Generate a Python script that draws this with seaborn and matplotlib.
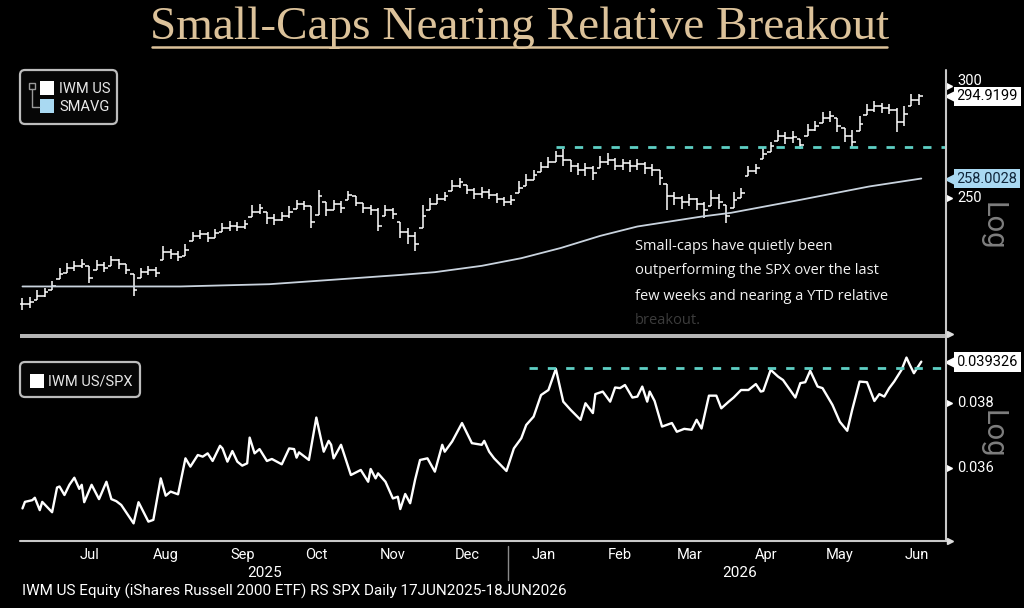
import numpy as np
import pandas as pd
import matplotlib
matplotlib.use("Agg")
import matplotlib.pyplot as plt
import matplotlib.dates as mdates
import matplotlib.transforms as mtransforms
from matplotlib.patches import FancyBboxPatch, Rectangle
from matplotlib.lines import Line2D
from matplotlib.ticker import NullLocator, FixedLocator
import seaborn as sns

# ---------------- data ----------------
title = "Small-Caps Nearing Relative Breakout"
footer = "IWM US Equity (iShares Russell 2000 ETF) RS SPX Daily 17JUN2025-18JUN2026"
note_lines = ["Small-caps have quietly been",
              "outperforming the SPX over the last",
              "few weeks and nearing a YTD relative"]
note_hidden = "breakout."

bar_start = "2025-06-19"
bar_close = [210.4, 211.1, 213.1, 214.5, 216.6, 220.9, 223.1, 223.8, 224.5, 219.5,
             224.2, 223.1, 226.0, 224.5, 222.3, 215.2, 221.6, 222.3, 221.3, 229.0,
             228.2, 227.1, 229.7, 235.0, 235.8, 234.2, 236.1, 238.1, 238.9, 238.5,
             239.6, 244.4, 246.0, 242.0, 241.2, 242.8, 244.4, 247.6, 246.8, 240.4,
             250.8, 245.2, 247.6, 246.0, 251.2, 248.0, 246.0, 245.2, 238.9, 245.2,
             243.6, 236.5, 235.0, 232.0, 242.8, 247.6, 249.6, 250.8, 254.9, 256.6,
             253.3, 251.6, 252.5, 251.2, 249.6, 248.4, 249.2, 254.1, 257.4, 259.5,
             262.9, 265.1, 267.7, 266.0, 263.4, 261.7, 262.5, 260.4, 265.1, 266.0,
             263.4, 264.7, 263.4, 264.2, 262.5, 261.7, 258.3, 250.8, 250.0, 248.4,
             249.6, 247.6, 245.2, 250.0, 248.4, 242.8, 249.2, 252.0, 261.2, 262.5,
             268.6, 272.1, 276.6, 275.7, 276.1, 272.5, 279.3, 281.1, 284.8, 285.7,
             281.1, 276.6, 273.9, 282.0, 288.5, 290.4, 289.5, 288.5, 282.9, 286.6,
             293.3, 294.9199]
bar_high = [212.4, 212.8, 215.2, 215.9, 218.4, 223.1, 224.9, 225.6, 226.4, 223.8,
            226.0, 225.3, 227.5, 226.4, 224.5, 220.9, 223.1, 223.8, 223.4, 231.2,
            230.1, 229.3, 232.0, 236.5, 237.3, 236.5, 237.7, 240.0, 240.8, 240.4,
            241.2, 247.2, 247.6, 244.4, 243.6, 244.4, 246.8, 249.2, 248.8, 246.8,
            253.3, 248.4, 249.2, 248.8, 252.9, 250.8, 248.0, 247.2, 246.0, 247.2,
            246.0, 240.4, 238.1, 236.5, 247.2, 250.0, 251.6, 252.5, 257.4, 258.3,
            255.4, 254.1, 254.5, 253.7, 252.0, 250.4, 251.2, 257.0, 260.0, 261.7,
            265.1, 267.3, 269.9, 270.8, 266.0, 264.7, 264.7, 263.4, 267.7, 269.0,
            266.8, 266.4, 266.0, 266.4, 265.1, 264.2, 261.7, 255.8, 252.5, 250.8,
            251.6, 250.0, 248.4, 253.3, 251.6, 247.2, 252.5, 254.1, 263.4, 264.2,
            271.2, 273.9, 279.3, 278.4, 278.8, 275.2, 282.0, 283.4, 287.6, 288.1,
            284.8, 280.2, 279.3, 285.7, 291.4, 292.8, 291.8, 291.4, 289.5, 290.4,
            296.1, 296.1]
bar_low = [208.3, 209.0, 211.7, 212.8, 215.2, 219.1, 221.3, 222.0, 223.1, 217.7,
           222.3, 221.6, 223.8, 222.7, 220.9, 213.1, 219.5, 220.5, 219.8, 226.0,
           226.4, 225.6, 227.5, 233.1, 233.9, 232.7, 234.2, 236.5, 236.9, 236.9,
           237.7, 242.4, 243.6, 239.6, 239.2, 240.8, 242.0, 245.6, 245.2, 238.1,
           243.2, 242.8, 245.2, 244.0, 249.2, 246.8, 244.0, 243.2, 236.9, 242.8,
           241.6, 234.2, 232.0, 229.3, 238.1, 245.2, 247.6, 248.8, 252.9, 254.1,
           251.6, 249.6, 250.0, 249.6, 248.0, 246.8, 247.2, 252.0, 254.9, 257.4,
           260.8, 262.5, 265.1, 263.4, 260.8, 259.5, 259.1, 257.4, 262.5, 263.8,
           261.7, 261.7, 260.8, 261.7, 260.0, 259.1, 255.4, 245.2, 247.2, 245.6,
           246.8, 245.2, 242.0, 246.8, 245.6, 240.0, 246.0, 250.0, 259.1, 260.0,
           266.4, 269.5, 274.3, 273.0, 273.4, 270.8, 276.6, 278.8, 282.5, 282.9,
           278.4, 273.9, 271.7, 278.8, 286.2, 287.6, 287.1, 286.6, 278.4, 281.1,
           290.4, 290.9]

sma_dates = ["2025-06-19", "2025-08-02", "2025-08-22", "2025-09-27", "2025-10-23",
             "2025-11-19", "2025-12-03", "2025-12-22", "2026-01-07", "2026-01-23",
             "2026-02-08", "2026-02-23", "2026-03-21", "2026-04-02", "2026-04-30",
             "2026-05-28", "2026-06-18"]
sma_vals = [216.4, 216.4, 216.4, 217.2, 218.8, 220.5, 221.5, 223.8, 226.6, 230.4,
            235.0, 238.6, 242.5, 244.0, 249.2, 254.7, 258.0028]

rel_dates = ["2025-06-19", "2025-06-20", "2025-06-23", "2025-06-24", "2025-06-26", "2025-06-27", "2025-07-01", "2025-07-03", "2025-07-04", "2025-07-06",
             "2025-07-08", "2025-07-10", "2025-07-12", "2025-07-13", "2025-07-14", "2025-07-17", "2025-07-20", "2025-07-23", "2025-07-25", "2025-07-27",
             "2025-07-29", "2025-08-03", "2025-08-05", "2025-08-07", "2025-08-09", "2025-08-11", "2025-08-14", "2025-08-16", "2025-08-18", "2025-08-21",
             "2025-08-24", "2025-08-26", "2025-08-29", "2025-08-31", "2025-09-02", "2025-09-04", "2025-09-07", "2025-09-08", "2025-09-10", "2025-09-12",
             "2025-09-14", "2025-09-16", "2025-09-18", "2025-09-19", "2025-09-21", "2025-09-23", "2025-09-26", "2025-09-28", "2025-10-02", "2025-10-05",
             "2025-10-07", "2025-10-08", "2025-10-09", "2025-10-13", "2025-10-16", "2025-10-19", "2025-10-21", "2025-10-22", "2025-10-23", "2025-10-26",
             "2025-10-30", "2025-11-03", "2025-11-06", "2025-11-07", "2025-11-09", "2025-11-10", "2025-11-13", "2025-11-16", "2025-11-18", "2025-11-19",
             "2025-11-21", "2025-11-23", "2025-11-25", "2025-11-27", "2025-11-30", "2025-12-03", "2025-12-06", "2025-12-07", "2025-12-10", "2025-12-14",
             "2025-12-18", "2025-12-22", "2025-12-23", "2025-12-25", "2025-12-27", "2026-01-01", "2026-01-04", "2026-01-07", "2026-01-09", "2026-01-12",
             "2026-01-15", "2026-01-18", "2026-01-21", "2026-01-24", "2026-01-27", "2026-01-31", "2026-02-02", "2026-02-05", "2026-02-06", "2026-02-09",
             "2026-02-12", "2026-02-14", "2026-02-16", "2026-02-18", "2026-02-21", "2026-02-23", "2026-02-25", "2026-02-27", "2026-02-28", "2026-03-02",
             "2026-03-05", "2026-03-09", "2026-03-11", "2026-03-14", "2026-03-17", "2026-03-19", "2026-03-21", "2026-03-24", "2026-03-27", "2026-03-29",
             "2026-04-01", "2026-04-03", "2026-04-06", "2026-04-09", "2026-04-12", "2026-04-14", "2026-04-15", "2026-04-18", "2026-04-21", "2026-04-23",
             "2026-04-28", "2026-04-30", "2026-05-02", "2026-05-04", "2026-05-07", "2026-05-09", "2026-05-13", "2026-05-16", "2026-05-19", "2026-05-21",
             "2026-05-24", "2026-05-27", "2026-05-30", "2026-06-01", "2026-06-03", "2026-06-05", "2026-06-07", "2026-06-10", "2026-06-12", "2026-06-13",
             "2026-06-15", "2026-06-18"]
rel_vals = [0.03481, 0.03500, 0.03505, 0.03512, 0.03476, 0.03500, 0.03470, 0.03542, 0.03545, 0.03520,
            0.03550, 0.03571, 0.03538, 0.03550, 0.03499, 0.03550, 0.03508, 0.03559, 0.03508, 0.03502,
            0.03491, 0.03438, 0.03499, 0.03471, 0.03443, 0.03448, 0.03569, 0.03518, 0.03530, 0.03522,
            0.03629, 0.03604, 0.03639, 0.03634, 0.03644, 0.03621, 0.03667, 0.03659, 0.03619, 0.03651,
            0.03619, 0.03607, 0.03614, 0.03692, 0.03644, 0.03657, 0.03621, 0.03627, 0.03611, 0.03659,
            0.03657, 0.03631, 0.03647, 0.03624, 0.03754, 0.03649, 0.03682, 0.03670, 0.03629, 0.03670,
            0.03579, 0.03594, 0.03559, 0.03597, 0.03569, 0.03584, 0.03559, 0.03510, 0.03515, 0.03479,
            0.03523, 0.03496, 0.03565, 0.03624, 0.03629, 0.03589, 0.03670, 0.03649, 0.03680, 0.03737,
            0.03675, 0.03670, 0.03682, 0.03649, 0.03629, 0.03591, 0.03659, 0.03690, 0.03731, 0.03757,
            0.03825, 0.03841, 0.03909, 0.03804, 0.03778, 0.03747, 0.03799, 0.03768, 0.03828, 0.03836,
            0.03804, 0.03849, 0.03847, 0.03857, 0.03817, 0.03820, 0.03852, 0.03804, 0.03836, 0.03806,
            0.03726, 0.03737, 0.03710, 0.03719, 0.03716, 0.03747, 0.03720, 0.03823, 0.03823, 0.03783,
            0.03804, 0.03817, 0.03841, 0.03841, 0.03860, 0.03836, 0.03838, 0.03906, 0.03884, 0.03873,
            0.03817, 0.03863, 0.03866, 0.03903, 0.03852, 0.03847, 0.03794, 0.03741, 0.03713, 0.03778,
            0.03868, 0.03866, 0.03806, 0.03828, 0.03820, 0.03847, 0.03868, 0.03906, 0.03946, 0.03928,
            0.03895, 0.039326]

res_price, res_price_start = 271.6, "2026-01-21"
res_rel, res_rel_start = 0.03912, "2026-01-10"

top_ticks = [250, 300]
bot_ticks = [0.036, 0.038]
x_range = ("2025-06-18", "2026-06-28")

# ---------------- style ----------------
sns.set_style("dark", rc={"axes.facecolor": "black", "figure.facecolor": "black",
                          "axes.grid": False})
plt.rcParams["font.family"] = ["Roboto", "DejaVu Sans"]

W, H = 1024, 608
fig = plt.figure(figsize=(W / 100, H / 100), dpi=100)
fig.patch.set_facecolor("black")
PIX = mtransforms.IdentityTransform()


def P(px, py):
    return (px, H - py)


L, R = 20, 946
ax1 = fig.add_axes([L / W, 1 - 333 / H, (R - L) / W, (333 - 70) / H])
ax2 = fig.add_axes([L / W, 1 - 541 / H, (R - L) / W, (541 - 340) / H])
for ax in (ax1, ax2):
    ax.set_facecolor("black")
    for s in ax.spines.values():
        s.set_visible(False)

xl = mdates.date2num(pd.to_datetime(list(x_range)))

# ---- top panel: OHLC bars + SMA ----
bd = mdates.date2num(pd.date_range(bar_start, periods=len(bar_close), freq="3D"))
c = np.array(bar_close)
hi = np.array(bar_high)
lo = np.array(bar_low)
op = np.clip(np.r_[c[0], c[:-1]], lo, hi)
ax1.vlines(bd, lo, hi, color="white", lw=1.1)
ax1.hlines(op, bd - 1.5, bd, color="white", lw=1.1)
ax1.hlines(c, bd, bd + 1.5, color="white", lw=1.1)

sd = mdates.date2num(pd.to_datetime(sma_dates))
sns.lineplot(x=sd, y=sma_vals, ax=ax1, color="#c9d3de", lw=1.3)
ax1.hlines(res_price, mdates.date2num(pd.Timestamp(res_price_start)), xl[1],
           color="#5ecfc4", lw=2, linestyles=[(0, (3, 3.6))])

ax1.set_yscale("log")
ax1.set_ylim(200.6, 307.9)

# ---- bottom panel: relative line ----
rd = mdates.date2num(pd.to_datetime(rel_dates))
sns.lineplot(x=rd, y=rel_vals, ax=ax2, color="white", lw=1.7)
ax2.hlines(res_rel, mdates.date2num(pd.Timestamp(res_rel_start)), xl[1],
           color="#5ecfc4", lw=2, linestyles=[(0, (3, 3.6))])
ax2.set_yscale("log")
ax2.set_ylim(0.03388, 0.04004)

for ax, ticks, fmt in ((ax1, top_ticks, "{:g}"), (ax2, bot_ticks, "{:.3f}")):
    ax.set_xlim(xl)
    ax.set_xlabel("")
    ax.set_ylabel("")
    ax.yaxis.set_ticks_position("right")
    ax.yaxis.set_major_locator(FixedLocator(ticks))
    ax.yaxis.set_minor_locator(NullLocator())
    ax.yaxis.set_major_formatter(plt.NullFormatter())
    ax.tick_params(axis="y", which="both", length=0)
    tr = mtransforms.offset_copy(ax.get_yaxis_transform(), fig=fig, x=3, y=0, units="dots")
    ax.plot([1] * len(ticks), ticks, ls="none", marker=">", ms=5, color="white",
            transform=tr, clip_on=False)
    for t in ticks:
        # the top "300" label sits just above the last-price tag, as in the reference
        dy = 5 if (ax is ax1 and t == 300) else 0
        trt = mtransforms.offset_copy(ax.get_yaxis_transform(), fig=fig, x=11, y=dy, units="dots")
        ax.text(1, t, fmt.format(t), transform=trt, ha="left", va="center",
                color="white", fontsize=10.5, clip_on=False)

ax1.tick_params(axis="x", which="both", length=0, labelbottom=False)

ax2.xaxis.set_major_locator(mdates.MonthLocator())
ax2.xaxis.set_major_formatter(plt.NullFormatter())
ax2.xaxis.set_minor_locator(mdates.MonthLocator(bymonthday=16))
ax2.xaxis.set_minor_formatter(mdates.DateFormatter("%b"))
ax2.tick_params(axis="x", which="major", length=4, width=1, color="white", direction="out")
ax2.tick_params(axis="x", which="minor", length=0, pad=5, labelcolor="white", labelsize=10.5)


# ---- value tags ----
def tag(ax, val, text, fc, tc):
    tr = ax.get_yaxis_transform()
    ax.annotate(text, xy=(1, val), xycoords=tr, xytext=(7.5, 0), textcoords="offset points",
                ha="left", va="center", fontsize=10.5, color=tc,
                bbox=dict(boxstyle="square,pad=0.2", fc=fc, ec="none"),
                annotation_clip=False, zorder=10)
    tr2 = mtransforms.offset_copy(tr, fig=fig, x=5, y=0, units="dots")
    ax.plot([1], [val], ls="none", marker="<", ms=8, color=fc, transform=tr2,
            clip_on=False, zorder=10)


tag(ax1, bar_close[-1], f"{bar_close[-1]:.4f}", "white", "black")
tag(ax1, sma_vals[-1], f"{sma_vals[-1]:.4f}", "#a9d9f2", "#10263a")
tag(ax2, rel_vals[-1], f"{rel_vals[-1]:.6f}", "white", "black")

# ---- frame lines ----
fig.add_artist(Line2D([946, 946], [H - 70, H - 541], transform=PIX, color="#c8c8c8", lw=1.5))
fig.add_artist(Rectangle(P(20, 338), 926, 4, transform=PIX, color="#b5b5b5", lw=0))
fig.add_artist(Line2D([20, 947], [H - 541, H - 541], transform=PIX, color="#c8c8c8", lw=1.5))
fig.add_artist(Line2D([950], [H - 541], transform=PIX, ls="none", marker=">", ms=5, color="#dddddd"))
fig.add_artist(Line2D([950], [H - 334], transform=PIX, ls="none", marker=">", ms=5, color="#dddddd"))
fig.add_artist(Line2D([508, 508], [H - 546, H - 580], transform=PIX, color="#8a8a8a", lw=1))

# ---- legends ----
fig.add_artist(FancyBboxPatch(P(20, 124), 97, 54, boxstyle="round,pad=0,rounding_size=5",
                              transform=PIX, fc="#060606", ec="#bdbdbd", lw=1.6))
fig.add_artist(Rectangle(P(29, 89), 6, 6, transform=PIX, fc="none", ec="#9a9a9a", lw=1))
fig.add_artist(Line2D([32, 32, 39], [H - 89, H - 107, H - 107], transform=PIX, color="#9a9a9a", lw=1))
fig.add_artist(Rectangle(P(40, 95), 14, 14, transform=PIX, fc="white", ec="none"))
fig.add_artist(Rectangle(P(40, 113), 14, 14, transform=PIX, fc="#a9d9f2", ec="none"))
fig.text(59, H - 89, "IWM US", transform=PIX, color="#e8e8e8", fontsize=10.5, va="center")
fig.text(59, H - 107, "SMAVG", transform=PIX, color="#e8e8e8", fontsize=10.5, va="center")

fig.add_artist(FancyBboxPatch(P(20, 397), 120, 35, boxstyle="round,pad=0,rounding_size=5",
                              transform=PIX, fc="#060606", ec="#bdbdbd", lw=1.6))
fig.add_artist(Rectangle(P(30, 388), 14, 14, transform=PIX, fc="white", ec="none"))
fig.text(48, H - 381, "IWM US/SPX", transform=PIX, color="#e8e8e8", fontsize=10.5, va="center")

# ---- texts ----
fig.text(519.5, H - 39, title, transform=PIX, ha="center", va="baseline",
         fontsize=34, color="#dcc29a", family=["Liberation Serif", "DejaVu Serif"])
fig.add_artist(Line2D([152, 887], [H - 46.5, H - 46.5], transform=PIX, color="#dcc29a", lw=1.8))

for i, line in enumerate(note_lines):
    fig.text(635, H - (246 + 25 * i), line, transform=PIX, ha="left", va="center",
             fontsize=10.5, color="#f2f2f2", family=["Open Sans", "DejaVu Sans"])
fig.text(635, H - 321, note_hidden, transform=PIX, ha="left", va="center",
         fontsize=10.5, color="#3c3c3c", family=["Open Sans", "DejaVu Sans"])

fig.text(993, H - 226, "Log", transform=PIX, rotation=270, ha="center", va="center",
         fontsize=21, color="#7e7e7e")
fig.text(993, H - 434, "Log", transform=PIX, rotation=270, ha="center", va="center",
         fontsize=21, color="#7e7e7e")

fig.text(265, H - 573, "2025", transform=PIX, ha="center", va="center", fontsize=11, color="white")
fig.text(740, H - 573, "2026", transform=PIX, ha="center", va="center", fontsize=11, color="white")
fig.text(22, H - 591, footer, transform=PIX, ha="left", va="center", fontsize=11, color="white")

fig.savefig("out.png", dpi=100, facecolor="black")
